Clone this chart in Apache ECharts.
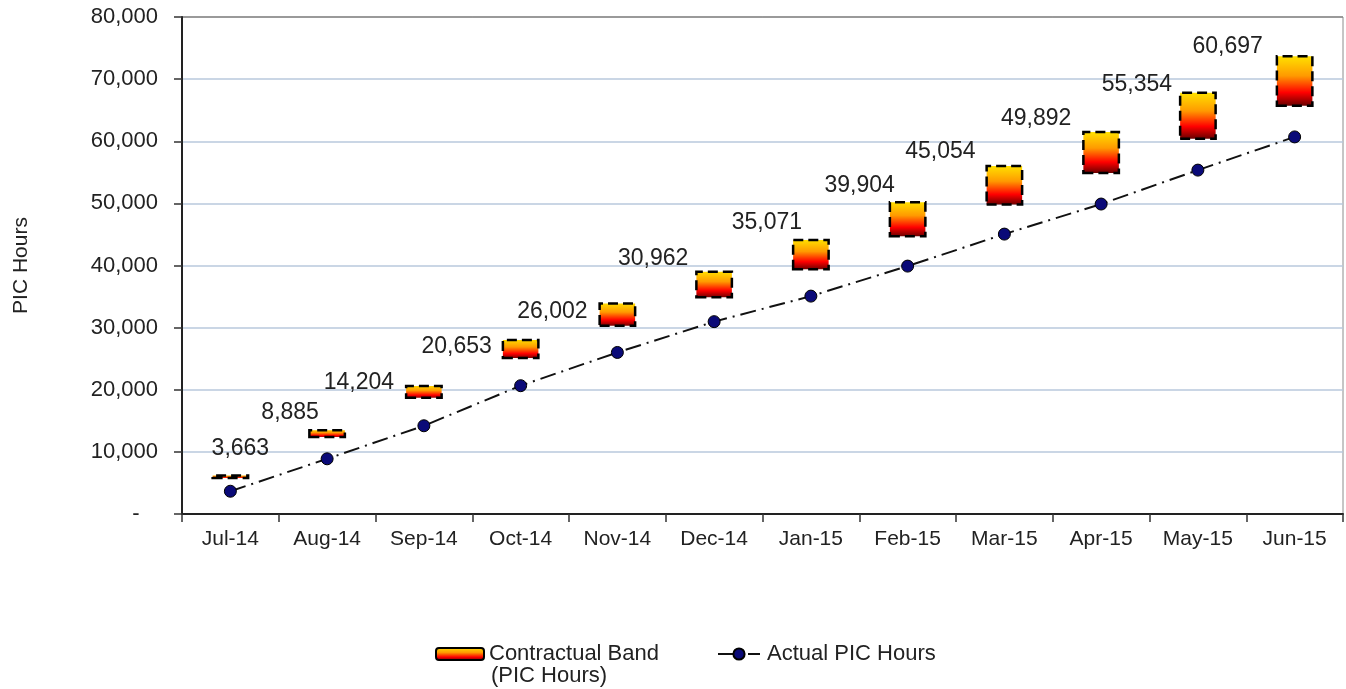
<!DOCTYPE html>
<html>
<head>
<meta charset="utf-8">
<script src="https://cdn.jsdelivr.net/npm/echarts@6/dist/echarts.min.js"></script>
<style>
  html, body { margin: 0; padding: 0; background: #ffffff; }
  #main { width: 1346px; height: 689px; }
</style>
</head>
<body>
<div id="main"></div>
<script>
// data
var months = ["Jul-14", "Aug-14", "Sep-14", "Oct-14", "Nov-14", "Dec-14",
              "Jan-15", "Feb-15", "Mar-15", "Apr-15", "May-15", "Jun-15"];
var actualHours = [3663, 8885, 14204, 20653, 26002, 30962, 35071, 39904, 45054, 49892, 55354, 60697];
var bandLow  = [5600, 12200, 18500, 24900, 30100, 34700, 39200, 44500, 49600, 54700, 60200, 65500];
var bandHigh = [6400, 13700, 20800, 28200, 34100, 39200, 44300, 50400, 56200, 61700, 68000, 73900];
var yTicks = [0, 10000, 20000, 30000, 40000, 50000, 60000, 70000, 80000];

// label nudges (px) so the value labels sit where they were placed by hand
var labelShift = [[10, -43], [-37, -46], [-65, -43], [-64, -39], [-65, -41], [-61, -63],
                  [-44, -73], [-48, -80], [-64, -82], [-65, -85], [-61, -85], [-67, -90]];

var bandName = "Contractual Band\n(PIC Hours)";
var lineName = "Actual PIC Hours";
var font = "Liberation Sans, Arial, sans-serif";

var bandSize = bandHigh.map(function (h, i) { return h - bandLow[i]; });

var bandFill = new echarts.graphic.LinearGradient(0, 0, 0, 1, [
  { offset: 0, color: "#ffe600" },
  { offset: 0.4, color: "#ff9a00" },
  { offset: 0.72, color: "#ff0000" },
  { offset: 1, color: "#5a0000" }
]);

var lineData = actualHours.map(function (v, i) {
  return { value: v, label: { offset: labelShift[i] } };
});

var chart = echarts.init(document.getElementById("main"));

var option = {
  animation: false,
  textStyle: { fontFamily: font },
  grid: {
    left: 182, right: 3, top: 17, bottom: 175,
    outerBoundsMode: "none",
    containLabel: false,
    show: true, borderColor: "#8c8c8c", borderWidth: 1
  },
  legend: [
    {
      data: [bandName],
      left: 430, top: 638,
      itemWidth: 48, itemHeight: 12,
      formatter: function (n) { return n.split("\n")[0]; },
      textStyle: { fontSize: 22, color: "#222", fontFamily: font }
    },
    {
      data: [lineName],
      left: 712, top: 638,
      itemWidth: 42, itemHeight: 14,
      textStyle: { fontSize: 22, color: "#222", fontFamily: font, padding: [0, 0, 0, 2] }
    }
  ],
  graphic: [
    {
      type: "text",
      left: 491, top: 665,
      style: { text: bandName.split("\n")[1], fontSize: 22, fill: "#222", fontFamily: font }
    }
  ],
  xAxis: {
    type: "category",
    data: months,
    boundaryGap: true,
    axisLine: { lineStyle: { color: "#222", width: 2 } },
    axisTick: { show: true, length: 8, lineStyle: { color: "#333", width: 1.5 } },
    axisLabel: { fontSize: 21, color: "#222", margin: 15, fontFamily: font }
  },
  yAxis: {
    type: "value",
    min: 0, max: 80000, interval: 10000,
    name: "PIC Hours",
    nameLocation: "middle",
    nameRotate: 90,
    nameGap: 150,
    nameTextStyle: { fontSize: 21, color: "#222", fontFamily: font },
    axisLine: { show: true, lineStyle: { color: "#222", width: 2 } },
    axisTick: { show: true, length: 8, lineStyle: { color: "#333", width: 1.5 } },
    axisLabel: {
      fontSize: 22, color: "#222", margin: 24, fontFamily: font,
      formatter: function (v) { return v === 0 ? "-   " : v.toLocaleString("en-US"); }
    },
    splitLine: {
      show: true,
      lineStyle: {
        color: yTicks.map(function (t) { return t === 80000 ? "#8c8c8c" : "#b8c9dc"; }),
        width: 1.5
      }
    }
  },
  series: [
    {
      name: "base",
      type: "bar",
      stack: "band",
      data: bandLow,
      barWidth: 38,
      itemStyle: { color: "transparent" },
      silent: true
    },
    {
      name: bandName,
      type: "bar",
      stack: "band",
      data: bandSize,
      barWidth: 38,
      itemStyle: {
        color: bandFill,
        borderColor: "#000",
        borderWidth: 2.5,
        borderType: [10, 5]
      }
    },
    {
      name: lineName,
      type: "line",
      data: lineData,
      z: 5,
      symbol: "circle",
      symbolSize: 12,
      itemStyle: { color: "#0a0a78", borderColor: "#000", borderWidth: 1 },
      lineStyle: { color: "#111", width: 2, type: [16, 6, 2, 6] },
      label: {
        show: true,
        position: "inside",
        fontSize: 23,
        color: "#222",
        fontFamily: font,
        formatter: function (p) { return p.value.toLocaleString("en-US"); }
      }
    }
  ]
};

chart.setOption(option);
</script>
</body>
</html>
